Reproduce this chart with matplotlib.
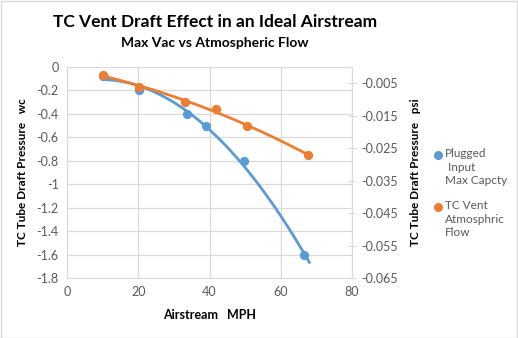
import numpy as np
import matplotlib
matplotlib.use("Agg")
import matplotlib.pyplot as plt
from matplotlib.patches import Rectangle
from matplotlib.lines import Line2D

plt.rcParams['font.family'] = ['Lato', 'DejaVu Sans']

# Data
plugged_x = [10.2, 20.3, 33.7, 39.0, 49.6, 66.4]
plugged_y = [-0.08, -0.20, -0.40, -0.50, -0.80, -1.60]
vent_x = [10.2, 20.3, 33.2, 41.9, 50.6, 67.7]
vent_y = [-0.07, -0.17, -0.30, -0.36, -0.505, -0.75]
series_labels = ["Plugged\n Input\nMax Capcty", "TC Vent\nAtmosphric\nFlow"]
title = "TC Vent Draft Effect in an Ideal Airstream"
subtitle = "Max Vac vs Atmospheric Flow"
xlabel = "Airstream   MPH"
ylabel_left = "TC Tube Draft Pressure   wc"
ylabel_right = "TC Tube Draft Pressure   psi"
left_ticks = [0, -0.2, -0.4, -0.6, -0.8, -1, -1.2, -1.4, -1.6, -1.8]
left_ticklabels = ["0", "-0.2", "-0.4", "-0.6", "-0.8", "-1", "-1.2", "-1.4", "-1.6", "-1.8"]
right_ticks = [-0.005, -0.015, -0.025, -0.035, -0.045, -0.055, -0.065]
x_ticks = [0, 20, 40, 60, 80]

blue = "#5B9BD5"
orange = "#ED7D31"
grid_c = "#D9D9D9"
text_c = "#595959"

fig = plt.figure(figsize=(5.18, 3.38), dpi=100)
W, H = 518, 338
ax = fig.add_axes([67 / W, 1 - 278 / H, (352 - 67) / W, (278 - 67) / H])

# trendlines (2nd order polynomial, as in the spreadsheet chart)
pb = np.polyfit(plugged_x, plugged_y, 2)
po = np.polyfit(vent_x, vent_y, 2)
xb = np.linspace(10.0, 68.0, 200)
xo = np.linspace(10.0, 67.7, 200)
ax.plot(xb, np.polyval(pb, xb), color=blue, lw=2.0, zorder=3)
ax.plot(xo, np.polyval(po, xo), color=orange, lw=2.0, zorder=3)
ax.scatter(plugged_x, plugged_y, s=32, color=blue, zorder=4)
ax.scatter(vent_x, vent_y, s=32, color=orange, zorder=4)

ax.set_xlim(0, 80)
ax.set_ylim(-1.8, 0)
ax.set_xticks(x_ticks)
ax.set_yticks(left_ticks)
ax.set_yticklabels(left_ticklabels)
ax.grid(True, color=grid_c, lw=0.9)
ax.set_axisbelow(True)
ax.spines['top'].set_visible(False)
ax.spines['left'].set_color(grid_c)
ax.spines['bottom'].set_color(grid_c)
ax.spines['right'].set_visible(False)
ax.tick_params(axis='both', length=0, labelsize=9, colors=text_c, pad=6)
ax.set_xlabel(xlabel, fontsize=9, fontweight='bold', color='#000000', labelpad=8)
ax.set_ylabel(ylabel_left, fontsize=8.5, fontweight='bold', color='#000000')
ax.yaxis.set_label_coords((28 - 67) / 285, 0.5)

ax2 = ax.twinx()
ax2.set_ylim(-0.065, 0.0)
ax2.set_yticks(right_ticks)
ax2.set_yticklabels([f"{t:.3f}" for t in right_ticks])
for s in ['top', 'left', 'bottom']:
    ax2.spines[s].set_visible(False)
ax2.spines['right'].set_color(grid_c)
ax2.tick_params(axis='y', direction='inout', length=6, color=grid_c, labelsize=9,
                labelcolor=text_c, pad=4)
ax2.set_ylabel(ylabel_right, fontsize=8.5, fontweight='bold', color='#000000')
ax2.yaxis.set_label_coords((410 - 67) / 285, 0.5)

# legend (manual layout)
leg_colors = [blue, orange]
leg_tops = [148, 200]
for lab, col, top in zip(series_labels, leg_colors, leg_tops):
    fig.add_artist(Line2D([438 / W], [1 - (top + 7) / H], marker='o', markersize=5.5,
                          color=col, linestyle='none', transform=fig.transFigure))
    fig.text(445 / W, 1 - top / H, lab, ha='left', va='top', fontsize=8.5,
             color=text_c, linespacing=1.3)

fig.text(215 / W, 1 - 22 / H, title, ha='center', va='center', fontsize=12.5, fontweight='bold')
fig.text(215 / W, 1 - 43 / H, subtitle, ha='center', va='center', fontsize=10, fontweight='bold')

fig.patches.append(Rectangle((0.5 / W, 0.5 / H), 1 - 1.5 / W, 1 - 1.5 / H, transform=fig.transFigure,
                             fill=False, edgecolor=grid_c, lw=1))

fig.savefig("out.png", dpi=100)
